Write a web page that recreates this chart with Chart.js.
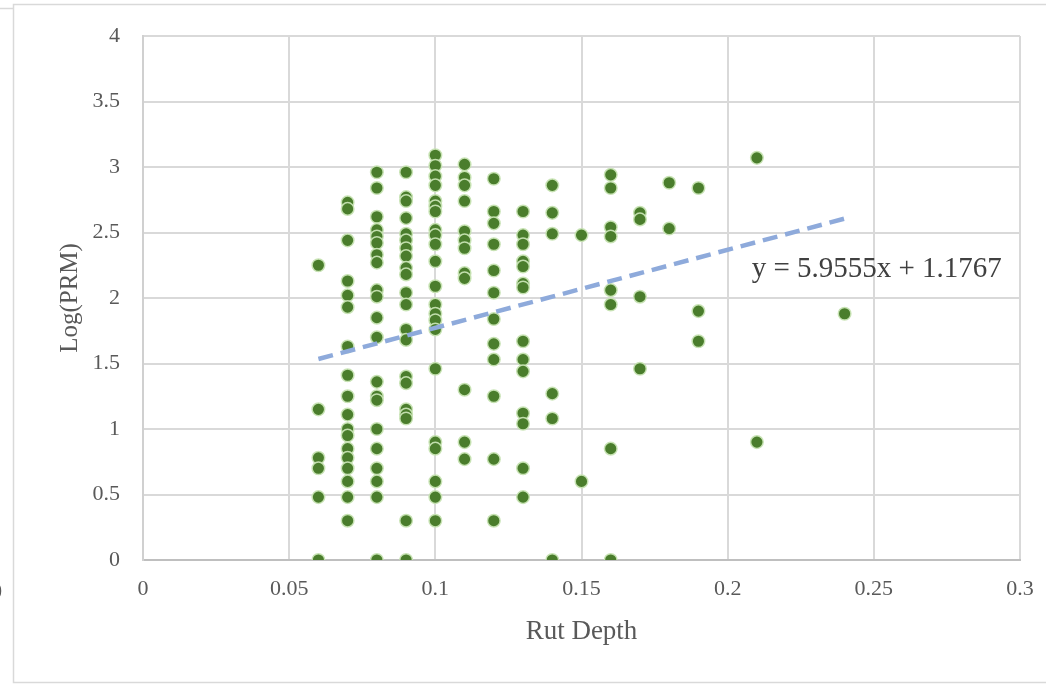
<!DOCTYPE html>
<html>
<head>
<meta charset="utf-8">
<script src="https://cdn.jsdelivr.net/npm/chart.js@4/dist/chart.umd.min.js"></script>
<style>
  html, body { margin: 0; padding: 0; background: #ffffff; }
  #wrap { position: relative; width: 1046px; height: 684px; }
</style>
</head>
<body>
<div id="wrap"><canvas id="c" width="1046" height="684"></canvas></div>
<script>
// ---- Data ----
const rutDepths = [0.06, 0.07, 0.08, 0.09, 0.10, 0.11, 0.12, 0.13, 0.14, 0.15, 0.16, 0.17, 0.18, 0.19, 0.21, 0.24];
const logPRM_006 = [2.25, 1.15, 0.78, 0.70, 0.48, 0];
const logPRM_007 = [2.73, 2.68, 2.44, 2.13, 2.02, 1.93, 1.63, 1.41, 1.25, 1.11, 1.00, 0.95, 0.85, 0.78, 0.70, 0.60, 0.48, 0.30];
const logPRM_008 = [2.96, 2.84, 2.62, 2.52, 2.47, 2.42, 2.33, 2.27, 2.06, 2.01, 1.85, 1.70, 1.36, 1.25, 1.22, 1.00, 0.85, 0.70, 0.60, 0.48, 0];
const logPRM_009 = [2.96, 2.77, 2.74, 2.61, 2.49, 2.44, 2.38, 2.32, 2.23, 2.18, 2.04, 1.95, 1.76, 1.68, 1.40, 1.35, 1.15, 1.11, 1.08, 0.30, 0];
const logPRM_010 = [3.09, 3.01, 2.93, 2.86, 2.74, 2.70, 2.66, 2.52, 2.48, 2.41, 2.28, 2.09, 1.95, 1.88, 1.83, 1.76, 1.46, 0.90, 0.85, 0.60, 0.48, 0.30];
const logPRM_011 = [3.02, 2.92, 2.86, 2.74, 2.51, 2.44, 2.38, 2.19, 2.15, 1.30, 0.90, 0.77];
const logPRM_012 = [2.91, 2.66, 2.57, 2.41, 2.21, 2.04, 1.84, 1.65, 1.53, 1.25, 0.77, 0.30];
const logPRM_013 = [2.66, 2.48, 2.41, 2.28, 2.24, 2.11, 2.08, 1.67, 1.53, 1.44, 1.12, 1.04, 0.70, 0.48];
const logPRM_014 = [2.86, 2.65, 2.49, 1.27, 1.08, 0];
const logPRM_015 = [2.48, 0.60];
const logPRM_016 = [2.94, 2.84, 2.54, 2.47, 2.06, 1.95, 0.85, 0];
const logPRM_017 = [2.65, 2.60, 2.01, 1.46];
const logPRM_018 = [2.88, 2.53];
const logPRM_019 = [2.84, 1.90, 1.67];
const logPRM_021 = [3.07, 0.90];
const logPRM_024 = [1.88];
const logPRMColumns = [logPRM_006, logPRM_007, logPRM_008, logPRM_009, logPRM_010, logPRM_011, logPRM_012, logPRM_013,
                       logPRM_014, logPRM_015, logPRM_016, logPRM_017, logPRM_018, logPRM_019, logPRM_021, logPRM_024];

// Linear trend line end points (y = 5.9555x + 1.1767)
const trendX = [0.06, 0.24];
const trendY = [1.534, 2.606];
const equationText = 'y = 5.9555x + 1.1767';

const xTickLabels = ['0', '0.05', '0.1', '0.15', '0.2', '0.25', '0.3'];
const yTickLabels = ['0', '0.5', '1', '1.5', '2', '2.5', '3', '3.5', '4'];

const xTitle = 'Rut Depth';
const yTitle = 'Log(PRM)';

// ---- Build datasets ----
const scatterPoints = [];
rutDepths.forEach((d, i) => {
  logPRMColumns[i].forEach(v => scatterPoints.push({ x: d, y: v }));
});
const trendPoints = trendX.map((x, i) => ({ x: x, y: trendY[i] }));

const FONT = "'Liberation Serif', 'DejaVu Serif', serif";

const framePlugin = {
  id: 'frame',
  beforeDraw(chart) {
    const ctx = chart.ctx;
    ctx.save();
    ctx.fillStyle = '#ffffff';
    ctx.fillRect(0, 0, chart.width, chart.height);
    ctx.strokeStyle = '#d9d9d9';
    ctx.lineWidth = 1.5;
    ctx.strokeRect(13.5, 4.5, chart.width + 10, 678);
    ctx.beginPath();
    ctx.moveTo(0, 8.5);
    ctx.lineTo(13, 8.5);
    ctx.stroke();
    ctx.fillStyle = '#595959';
    ctx.font = '20px ' + FONT;
    ctx.textBaseline = 'middle';
    ctx.textAlign = 'left';
    ctx.fillText('0', -8, 593);
    ctx.restore();
  }
};

const equationPlugin = {
  id: 'equation',
  afterDatasetsDraw(chart) {
    const ctx = chart.ctx;
    const xs = chart.scales.x, ys = chart.scales.y;
    ctx.save();
    ctx.fillStyle = '#404040';
    ctx.font = '29px ' + FONT;
    ctx.textBaseline = 'middle';
    ctx.textAlign = 'left';
    ctx.fillText(equationText, xs.getPixelForValue(0.2082), ys.getPixelForValue(2.215));
    ctx.restore();
  }
};

new Chart(document.getElementById('c'), {
  type: 'scatter',
  data: {
    datasets: [
      {
        label: 'Linear (Log(PRM))',
        type: 'line',
        data: trendPoints,
        borderColor: '#8eaadb',
        borderWidth: 4.5,
        borderDash: [15, 8],
        pointRadius: 0,
        fill: false,
        order: 0
      },
      {
        label: 'Log(PRM)',
        data: scatterPoints,
        backgroundColor: '#4a7d2c',
        borderColor: 'rgba(200,228,180,0.95)',
        borderWidth: 1.5,
        pointRadius: 6.3,
        pointHoverRadius: 6.3,
        order: 1
      }
    ]
  },
  options: {
    responsive: false,
    devicePixelRatio: 1,
    animation: false,
    layout: { padding: { left: 0, right: 26, top: 36, bottom: 0 } },
    plugins: {
      legend: { display: false },
      tooltip: { enabled: false }
    },
    scales: {
      x: {
        type: 'linear',
        min: 0,
        max: 0.3,
        afterFit(scale) { scale.height = 124; scale.paddingRight = 0; scale.paddingLeft = 0; },
        ticks: {
          stepSize: 0.05,
          padding: 16,
          color: '#595959',
          font: { family: FONT, size: 22 },
          callback: (v, i) => xTickLabels[i],
          maxRotation: 0
        },
        grid: { color: '#d9d9d9', lineWidth: 2, drawTicks: false },
        border: { color: '#bfbfbf', width: 2 },
        title: {
          display: true,
          text: xTitle,
          color: '#595959',
          font: { family: FONT, size: 27 },
          padding: { top: 0, bottom: 36 }
        }
      },
      y: {
        type: 'linear',
        min: 0,
        max: 4,
        afterFit(scale) { scale.width = 143; scale.paddingTop = 0; scale.paddingBottom = 0; },
        ticks: {
          stepSize: 0.5,
          padding: 23,
          color: '#595959',
          font: { family: FONT, size: 22 },
          callback: (v, i) => yTickLabels[i]
        },
        grid: { color: '#d9d9d9', lineWidth: 2, drawTicks: false },
        border: { color: '#d0d0d0', width: 2 },
        title: {
          display: true,
          text: yTitle,
          color: '#595959',
          font: { family: FONT, size: 25 },
          padding: { top: 55, bottom: 0 }
        }
      }
    }
  },
  plugins: [framePlugin, equationPlugin]
});
</script>
</body>
</html>
